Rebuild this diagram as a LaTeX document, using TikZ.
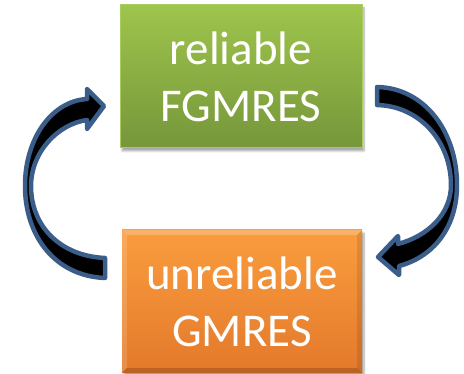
\documentclass[tikz,border=0pt]{standalone}
\usepackage{fontspec}
\setmainfont{Carlito}
\usetikzlibrary{shadows.blur,calc}

\definecolor{greenTop}{HTML}{9EC54C}
\definecolor{greenBot}{HTML}{76963A}
\definecolor{greenEdge}{HTML}{A8CC62}
\definecolor{orangeTop}{HTML}{FA9D3E}
\definecolor{orangeBot}{HTML}{E3792B}
\definecolor{arrowEdge}{HTML}{3A5D8A}

\begin{document}
\begin{tikzpicture}[x=1pt,y=-1pt,
  box/.style={rectangle, minimum width=242pt, minimum height=143pt,
    inner sep=0pt, align=center, text=white,
    font=\fontsize{47}{57}\selectfont,
    blur shadow={shadow xshift=2pt, shadow yshift=-3pt,
      shadow blur steps=6, shadow opacity=35}},
  bentarrow/.style={fill=black, draw=arrowEdge, line width=4.5pt,
    line join=round}]
\useasboundingbox (0,0) rectangle (464,374);

% the two solver boxes
\node[box, top color=greenTop, bottom color=greenBot, draw=greenEdge,
  line width=1pt] (rel) at (241,76.5) {reliable\\FGMRES};
\node[box, top color=orangeTop, bottom color=orangeBot,
  minimum width=240pt] (unrel) at (242,301.5) {unreliable\\GMRES};

% bevel on the orange box
\fill[white, opacity=0.22] (unrel.north west) -- (unrel.north east)
  -- ++(-5,5) -- ($(unrel.north west)+(5,5)$) -- cycle;
\fill[white, opacity=0.15] (unrel.north west) -- ++(5,5)
  -- ($(unrel.south west)+(5,-5)$) -- (unrel.south west) -- cycle;
\fill[black, opacity=0.18] (unrel.south west) -- ++(5,-5)
  -- ($(unrel.south east)+(-5,-5)$) -- (unrel.south east) -- cycle;
\fill[black, opacity=0.10] (unrel.north east) -- ++(-5,5)
  -- ($(unrel.south east)+(-5,-5)$) -- (unrel.south east) -- cycle;

% curved arrow on the left, from the lower box up to the upper one
\filldraw[bentarrow]
  (105,278) .. controls (55,276) and (25,236) .. (25,186)
  .. controls (25,138) and (52,101) .. (87,99)
  -- (87,89) -- (104,106) -- (87,129) -- (87,120)
  .. controls (58,124) and (31,152) .. (31,186)
  .. controls (31,226) and (60,256) .. (105,258) -- cycle;

% curved arrow on the right, from the upper box down to the lower one
\filldraw[bentarrow]
  (377,87) .. controls (425,88) and (457,132) .. (457,185)
  .. controls (457,228) and (433,257) .. (399,266)
  -- (399,275) -- (378,257) -- (398,236) -- (398,244)
  .. controls (428,236) and (451,214) .. (451,185)
  .. controls (451,142) and (420,106) .. (377,105) -- cycle;
\end{tikzpicture}
\end{document}
